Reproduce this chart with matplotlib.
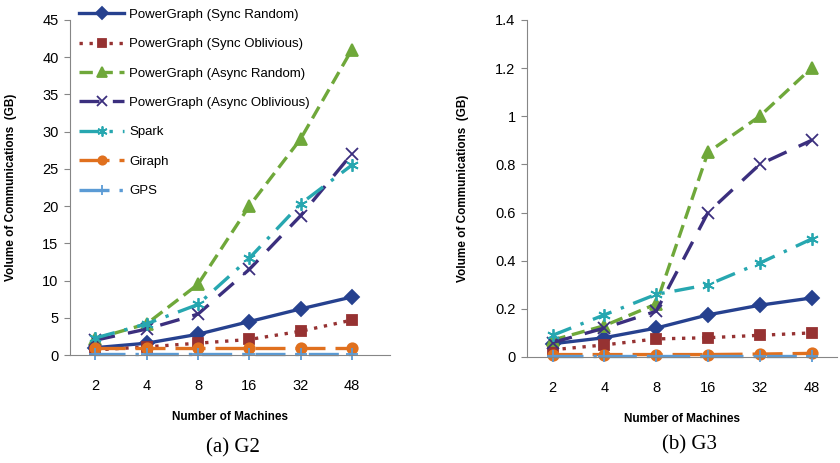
import matplotlib.pyplot as plt

# data
machines = ['2', '4', '8', '16', '32', '48']
series = ['PowerGraph (Sync Random)', 'PowerGraph (Sync Oblivious)',
          'PowerGraph (Async Random)', 'PowerGraph (Async Oblivious)',
          'Spark', 'Giraph', 'GPS']

g2_sync_random = [1.0, 1.6, 2.8, 4.5, 6.2, 7.8]
g2_sync_oblivious = [0.7, 1.1, 1.6, 2.1, 3.2, 4.7]
g2_async_random = [2.2, 4.2, 9.5, 20.0, 29.0, 41.0]
g2_async_oblivious = [2.0, 3.5, 5.5, 11.5, 18.7, 27.0]
g2_spark = [2.3, 4.2, 6.8, 13.0, 20.3, 25.5]
g2_giraph = [0.9, 0.9, 0.9, 0.9, 0.9, 0.9]
g2_gps = [0.1, 0.1, 0.1, 0.1, 0.1, 0.1]

g3_sync_random = [0.055, 0.08, 0.12, 0.175, 0.215, 0.245]
g3_sync_oblivious = [0.03, 0.05, 0.075, 0.08, 0.09, 0.10]
g3_async_random = [0.07, 0.13, 0.22, 0.85, 1.0, 1.2]
g3_async_oblivious = [0.06, 0.12, 0.19, 0.6, 0.8, 0.9]
g3_spark = [0.09, 0.175, 0.26, 0.30, 0.39, 0.49]
g3_giraph = [0.01, 0.01, 0.01, 0.01, 0.012, 0.015]
g3_gps = [0.004, 0.004, 0.004, 0.004, 0.004, 0.004]

# styles: color, linestyle, marker
styles = [
    ('#26418f', '-', 'D'),
    ('#963232', (0, (1, 2)), 's'),
    ('#6fa83a', (0, (4, 2)), '^'),
    ('#3b2f7e', (0, (6, 4)), 'x'),
    ('#27a7b0', (0, (6, 3, 1, 3)), (6, 2, 0)),
    ('#e0701e', (0, (9, 3)), 'o'),
    ('#5b9bd5', (0, (9, 3, 1, 3)), '+'),
]

plt.rcParams['font.family'] = ['Liberation Sans', 'DejaVu Sans']

fig = plt.figure(figsize=(8.4, 4.63), dpi=100)
ax1 = fig.add_axes([0.083, 0.233, 0.381, 0.724])
ax2 = fig.add_axes([0.627, 0.229, 0.370, 0.728])

x = range(len(machines))

def draw(ax, data, ymax, ystep):
    lines = []
    for vals, (c, ls, m) in zip(data, styles):
        ms = 7.5 if m in ('D', 's', 'o') else 9
        ln, = ax.plot(x, vals, color=c, linestyle=ls, marker=m, markersize=ms,
                      linewidth=2.4, markeredgewidth=1.3, clip_on=False)
        lines.append(ln)
    ax.set_ylim(0, ymax)
    ticks = [i * ystep for i in range(int(round(ymax / ystep)) + 1)]
    ax.set_yticks(ticks)
    ax.set_yticklabels([f'{t:g}' for t in ticks])
    ax.set_xticks(list(x))
    ax.set_xticklabels(machines)
    for s in ['top', 'right']:
        ax.spines[s].set_visible(False)
    for s in ['left', 'bottom']:
        ax.spines[s].set_color('#868686')
    ax.tick_params(axis='y', length=4, color='#868686', labelsize=10.5, pad=4)
    ax.tick_params(axis='x', length=0, labelsize=10.5, pad=17)
    ax.set_xlabel('Number of Machines', fontsize=8.5, fontweight='bold', labelpad=13)
    ax.set_ylabel('Volume of Communications  (GB)', fontsize=8.5, fontweight='bold')
    return lines

g2 = [g2_sync_random, g2_sync_oblivious, g2_async_random, g2_async_oblivious,
      g2_spark, g2_giraph, g2_gps]
g3 = [g3_sync_random, g3_sync_oblivious, g3_async_random, g3_async_oblivious,
      g3_spark, g3_giraph, g3_gps]

lines = draw(ax1, g2, 45, 5)
ax1.set_xlim(-0.5, 5.74)
ax1.yaxis.set_label_coords(-0.165, 0.5)
draw(ax2, g3, 1.4, 0.2)
ax2.set_xlim(-0.5, 5.5)
ax2.yaxis.set_label_coords(-0.185, 0.5)

fig.legend(lines, series, loc='upper left', bbox_to_anchor=(0.08, 1.007),
           frameon=False, fontsize=9.5, handlelength=3.4, labelspacing=1.3,
           handletextpad=0.4, markerscale=0.8)

fig.text(0.277, 0.022, '(a) G2', family='Liberation Serif', fontsize=15, ha='center')
fig.text(0.821, 0.03, '(b) G3', family='Liberation Serif', fontsize=15, ha='center')

fig.savefig('out.png', dpi=100)
